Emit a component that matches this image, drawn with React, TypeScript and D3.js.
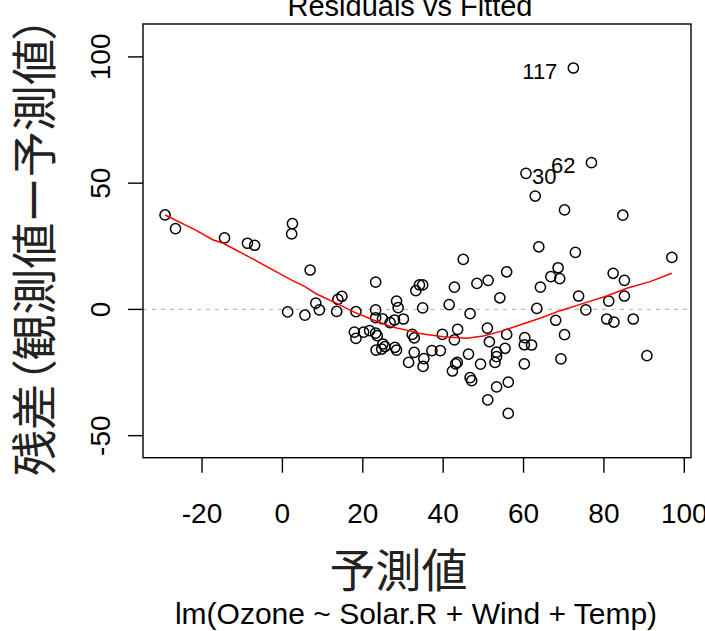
import React from "react";
import * as d3 from "d3";

// Fitted values (x) and residuals (y)
const fitted = [
  -29.2, -26.6, -14.4, -8.7, -6.9, 2.5, 2.3, 6.9, 1.3, 5.6, 8.3, 9.2, 13.5, 13.8, 14.8, 18.3,
  23.2, 23.2, 23.2, 24.9, 26.8, 27.9, 30.1, 28.4, 28.8, 17.9, 18.3, 20.2, 21.7, 23.2, 23.6,
  23.3, 25.0, 24.7, 25.5, 28.0, 28.4, 31.4, 32.3, 32.8, 32.8, 34.1, 34.9, 33.2, 34.9, 35.2,
  35.0, 37.2, 39.3, 39.8, 41.5, 42.8, 43.6, 42.8, 43.5, 43.1, 42.3, 45.0, 46.3, 46.7, 46.7,
  47.1, 48.4, 51.2, 49.3, 51.0, 51.5, 51.1, 52.9, 53.3, 53.3, 53.3, 54.1, 55.4, 55.8, 55.8,
  56.2, 56.2, 60.3, 60.2, 62.0, 60.2, 63.3, 63.8, 64.2, 66.8, 68.6, 69.0, 68.0, 69.3, 70.2,
  72.9, 73.7, 75.5, 80.7, 81.2, 82.3, 82.5, 85.1, 85.1, 87.3, 90.7, 96.9, 72.4, 76.9, 60.6,
  62.9, 70.2, 84.7,
];
const residuals = [
  37.4, 32.0, 28.3, 26.2, 25.4, 34.0, 29.9, 15.6, -1.0, -2.3, 2.5, -0.2, -0.8, 4.0, 5.2, -0.9,
  10.8, -0.2, -3.3, -3.7, -5.2, -4.2, -3.8, 3.3, 0.7, -9.0, -11.5, -9.0, -8.4, -9.4, -10.4,
  -16.1, -13.7, -15.7, -14.7, -15.0, -16.1, -21.0, -9.9, -11.3, -17.0, 9.7, 9.7, 7.4, 0.6, -19.5,
  -22.6, -16.3, -16.3, -9.9, 1.9, 8.8, -7.9, -12.1, -21.0, -21.6, -24.4, 19.8, -17.7, -1.7, -27.0,
  -28.2, 10.3, 11.5, -21.7, -7.4, -12.8, -35.8, -21.0, -16.9, -18.7, -30.7, 4.6, -15.4, -9.9, 14.9,
  -28.8, -41.2, -11.2, -14.0, -14.1, -21.6, 0.4, 24.8, 8.8, 13.0, 16.5, 12.2, -4.3, -19.6, -10.0,
  22.6, 5.3, -0.2, -3.8, 3.3, 14.3, -5.0, 11.5, 5.3, -3.8, -18.3, 20.6, 95.6, 58.1, 53.9,
  44.9, 39.4, 37.3,
];

// Smoother (red line)
const smoothX = [
  -29.2, -21.8, -17.2, -14.7, -8.1, 2.3, 5.6, 8.5, 13.5, 17.6, 22.6, 27.6, 32.6, 34.2, 40.0,
  45.9, 50.0, 54.1, 58.3, 64.1, 69.1, 74.9, 80.7, 85.7, 91.5, 96.9,
];
const smoothY = [
  37.4, 31.6, 27.5, 26.2, 20.6, 11.6, 9.0, 6.1, 2.4, -0.9, -4.2, -7.1, -8.8, -9.5, -10.8,
  -11.4, -10.5, -8.8, -6.6, -3.5, -0.5, 2.4, 5.3, 8.4, 11.0, 14.3,
];

// Labelled observations
const idNames = ["117", "62", "30"];
const idX = [72.4, 76.9, 60.6];
const idY = [95.6, 58.1, 53.9];
const idSide = ["left", "left", "right"];

const xTicks = [-20, 0, 20, 40, 60, 80, 100];
const yTicks = [-50, 0, 50, 100];

const title = "Residuals vs Fitted";
const xLabel = "予測値";
const yLabel = "残差（観測値ー予測値）";
const subCaption = "lm(Ozone ~ Solar.R + Wind + Temp)";

const W = 705;
const H = 631;
const L = 143, R = 691, T = 24, B = 457.7;

export default function App() {
  const x = d3.scaleLinear().domain([-34.69, 101.67]).range([L, R]);
  const y = d3.scaleLinear().domain([-58.73, 113.03]).range([B, T]);
  const line = d3
    .line<number>()
    .x((d, i) => x(smoothX[i]))
    .y((d) => y(d));
  const latin = "'Liberation Sans', Arial, Helvetica, sans-serif";
  const cjk = "'Noto Sans CJK JP', 'Noto Sans CJK SC', sans-serif";
  const fs = 28;
  return (
    <svg
      width={W}
      height={H}
      viewBox={`0 0 ${W} ${H}`}
      style={{ position: "absolute", left: 0, top: 0, background: "#fff" }}
    >
      <rect x={0} y={0} width={W} height={H} fill="#fff" />
      {/* zero reference line */}
      <line
        x1={L}
        x2={R}
        y1={y(0)}
        y2={y(0)}
        stroke="#bebebe"
        strokeWidth={1.3}
        strokeDasharray="4,5"
      />
      {/* points */}
      {fitted.map((f, i) => (
        <circle
          key={i}
          cx={x(f)}
          cy={y(residuals[i])}
          r={5.1}
          fill="none"
          stroke="#000"
          strokeWidth={1.5}
        />
      ))}
      {/* smoother */}
      <path d={line(smoothY) || ""} fill="none" stroke="#ff0000" strokeWidth={1.5} />
      {/* id labels */}
      {idNames.map((n, i) => (
        <text
          key={n}
          x={x(idX[i]) + (idSide[i] === "left" ? -16 : 6)}
          y={y(idY[i]) + 10.5}
          textAnchor={idSide[i] === "left" ? "end" : "start"}
          fontFamily={latin}
          fontSize={22}
          fill="#000"
        >
          {n}
        </text>
      ))}
      {/* box */}
      <rect x={L} y={T} width={R - L} height={B - T} fill="none" stroke="#000" strokeWidth={1.4} />
      {/* x axis */}
      {xTicks.map((t) => (
        <g key={"x" + t}>
          <line x1={x(t)} x2={x(t)} y1={B} y2={B + 15} stroke="#000" strokeWidth={1.4} />
          <text x={x(t)} y={523} textAnchor="middle" fontFamily={latin} fontSize={fs}>
            {t}
          </text>
        </g>
      ))}
      {/* y axis */}
      {yTicks.map((t) => (
        <g key={"y" + t}>
          <line x1={L - 15} x2={L} y1={y(t)} y2={y(t)} stroke="#000" strokeWidth={1.4} />
          <text
            transform={`translate(110,${y(t)}) rotate(-90)`}
            textAnchor="middle"
            fontFamily={latin}
            fontSize={fs}
          >
            {t}
          </text>
        </g>
      ))}
      {/* title */}
      <text x={410} y={16} textAnchor="middle" fontFamily={latin} fontSize={29}>
        {title}
      </text>
      {/* x label */}
      <text x={398.5} y={587} textAnchor="middle" fontFamily={cjk} fontSize={46} fill="#222">
        {xLabel}
      </text>
      {/* y label */}
      <text
        transform={`translate(51,246) rotate(-90)`}
        textAnchor="middle"
        fontFamily={cjk}
        fontSize={46}
        fill="#222"
        textLength={460}
        lengthAdjust="spacingAndGlyphs"
        style={{ fontFeatureSettings: '"palt"' }}
      >
        {yLabel}
      </text>
      {/* sub caption */}
      <text x={416} y={624} textAnchor="middle" fontFamily={latin} fontSize={30}>
        {subCaption}
      </text>
    </svg>
  );
}
